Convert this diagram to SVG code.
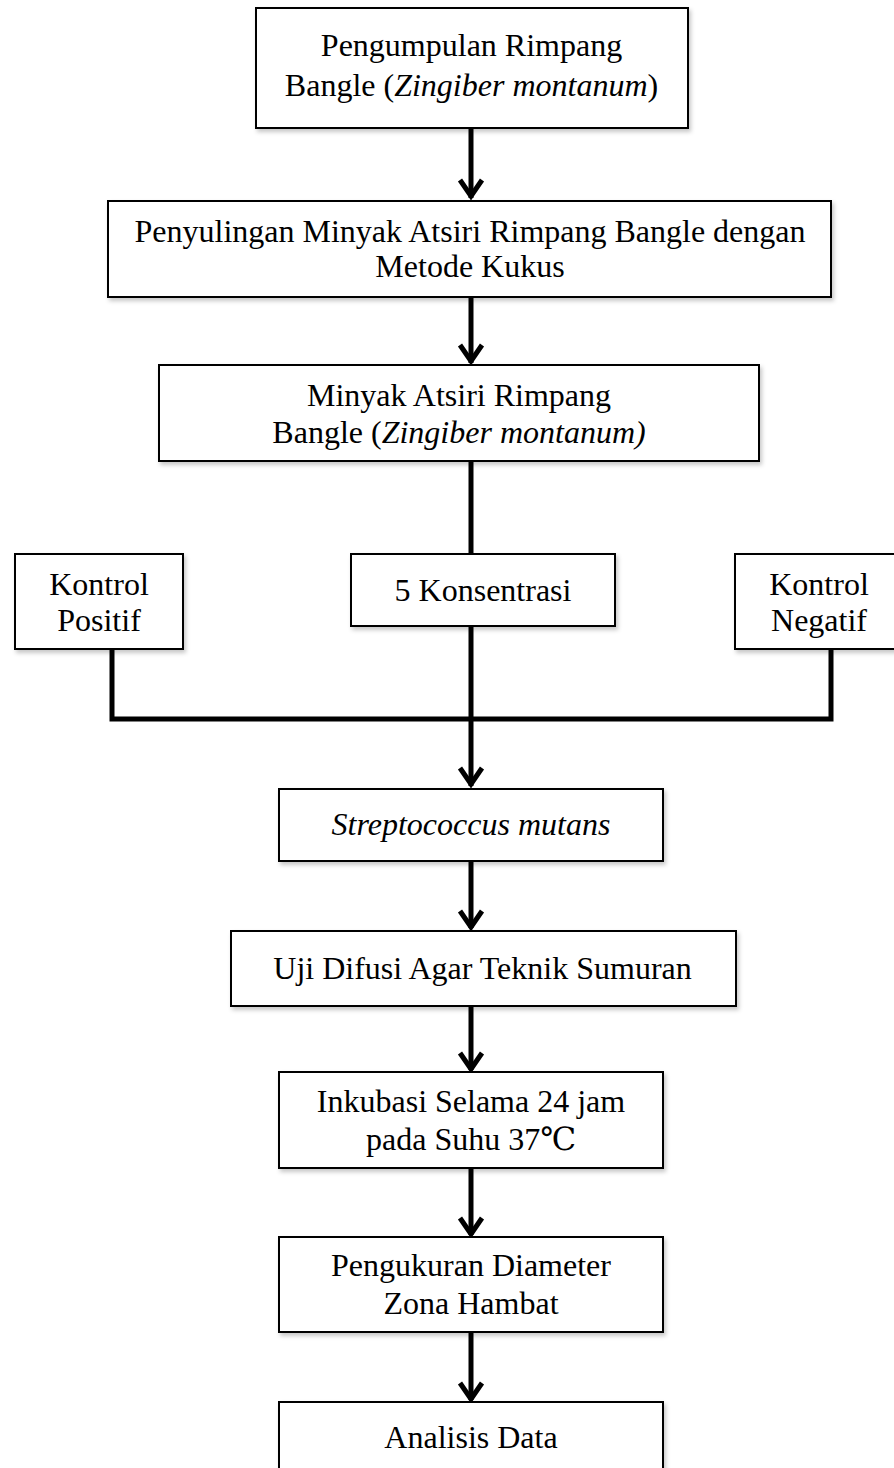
<svg xmlns="http://www.w3.org/2000/svg" width="894" height="1468" viewBox="0 0 894 1468">
<defs>
<filter id="sh" x="-10%" y="-10%" width="130%" height="140%">
<feDropShadow dx="2" dy="3" stdDeviation="2" flood-color="#000" flood-opacity="0.22"/>
</filter>
<style>
.box{fill:#fff;stroke:#000;stroke-width:2;filter:url(#sh)}
.t{font-family:"Liberation Serif","Times New Roman","DejaVu Serif",serif;font-size:32px;fill:#000;text-anchor:middle}
.i{font-style:italic}
.ln{fill:none;stroke:#000;stroke-width:5}
.hd{fill:none;stroke:#000;stroke-width:5;stroke-linejoin:miter;stroke-miterlimit:10}
</style>
</defs>
<rect width="894" height="1468" fill="#fff"/>

<g id="connectors">
<line class="ln" x1="471" y1="128" x2="471" y2="198"/>
<path class="hd" d="M460,180 L471,196 L482,180"/>
<line class="ln" x1="471" y1="297" x2="471" y2="363"/>
<path class="hd" d="M460,345 L471,361 L482,345"/>
<line class="ln" x1="471" y1="461" x2="471" y2="554"/>
<line class="ln" x1="471" y1="626" x2="471" y2="786"/>
<path class="hd" d="M460,768 L471,784 L482,768"/>
<path class="ln" d="M112,649 L112,719 L831,719 L831,649" stroke-linejoin="miter"/>
<line class="ln" x1="471" y1="861" x2="471" y2="928"/>
<path class="hd" d="M460,911 L471,927 L482,911"/>
<line class="ln" x1="471" y1="1006" x2="471" y2="1070"/>
<path class="hd" d="M460,1053 L471,1069 L482,1053"/>
<line class="ln" x1="471" y1="1168" x2="471" y2="1235"/>
<path class="hd" d="M460,1218 L471,1234 L482,1218"/>
<line class="ln" x1="471" y1="1332" x2="471" y2="1400"/>
<path class="hd" d="M460,1383 L471,1399 L482,1383"/>
</g>

<g id="n1">
<rect class="box" x="256" y="8" width="432" height="120"/>
<text class="t" x="471.5" y="56">Pengumpulan Rimpang</text>
<text class="t" x="471.5" y="96">Bangle (<tspan class="i">Zingiber montanum</tspan>)</text>
</g>

<g id="n2">
<rect class="box" x="108" y="201" width="723" height="96"/>
<text class="t" x="470" y="242">Penyulingan Minyak Atsiri Rimpang Bangle dengan</text>
<text class="t" x="470" y="277">Metode Kukus</text>
</g>

<g id="n3">
<rect class="box" x="159" y="365" width="600" height="96"/>
<text class="t" x="459" y="406">Minyak Atsiri Rimpang</text>
<text class="t" x="459" y="443">Bangle (<tspan class="i">Zingiber montanum)</tspan></text>
</g>

<g id="n4">
<rect class="box" x="15" y="554" width="168" height="95"/>
<text class="t" x="99" y="595">Kontrol</text>
<text class="t" x="99" y="631">Positif</text>
</g>

<g id="n5">
<rect class="box" x="351" y="554" width="264" height="72"/>
<text class="t" x="483" y="601">5 Konsentrasi</text>
</g>

<g id="n6">
<rect class="box" x="735" y="554" width="170" height="95"/>
<text class="t" x="819" y="595">Kontrol</text>
<text class="t" x="819" y="631">Negatif</text>
</g>

<g id="n7">
<rect class="box" x="279" y="789" width="384" height="72"/>
<text class="t i" x="471" y="835">Streptococcus mutans</text>
</g>

<g id="n8">
<rect class="box" x="231" y="931" width="505" height="75"/>
<text class="t" x="482.5" y="979">Uji Difusi Agar Teknik Sumuran</text>
</g>

<g id="n9">
<rect class="box" x="279" y="1072" width="384" height="96"/>
<text class="t" x="471" y="1112">Inkubasi Selama 24 jam</text>
<text class="t" x="471" y="1150">pada Suhu 37℃</text>
</g>

<g id="n10">
<rect class="box" x="279" y="1237" width="384" height="95"/>
<text class="t" x="471" y="1276">Pengukuran Diameter</text>
<text class="t" x="471" y="1314">Zona Hambat</text>
</g>

<g id="n11">
<rect class="box" x="279" y="1402" width="384" height="90"/>
<text class="t" x="471" y="1448">Analisis Data</text>
</g>
</svg>
